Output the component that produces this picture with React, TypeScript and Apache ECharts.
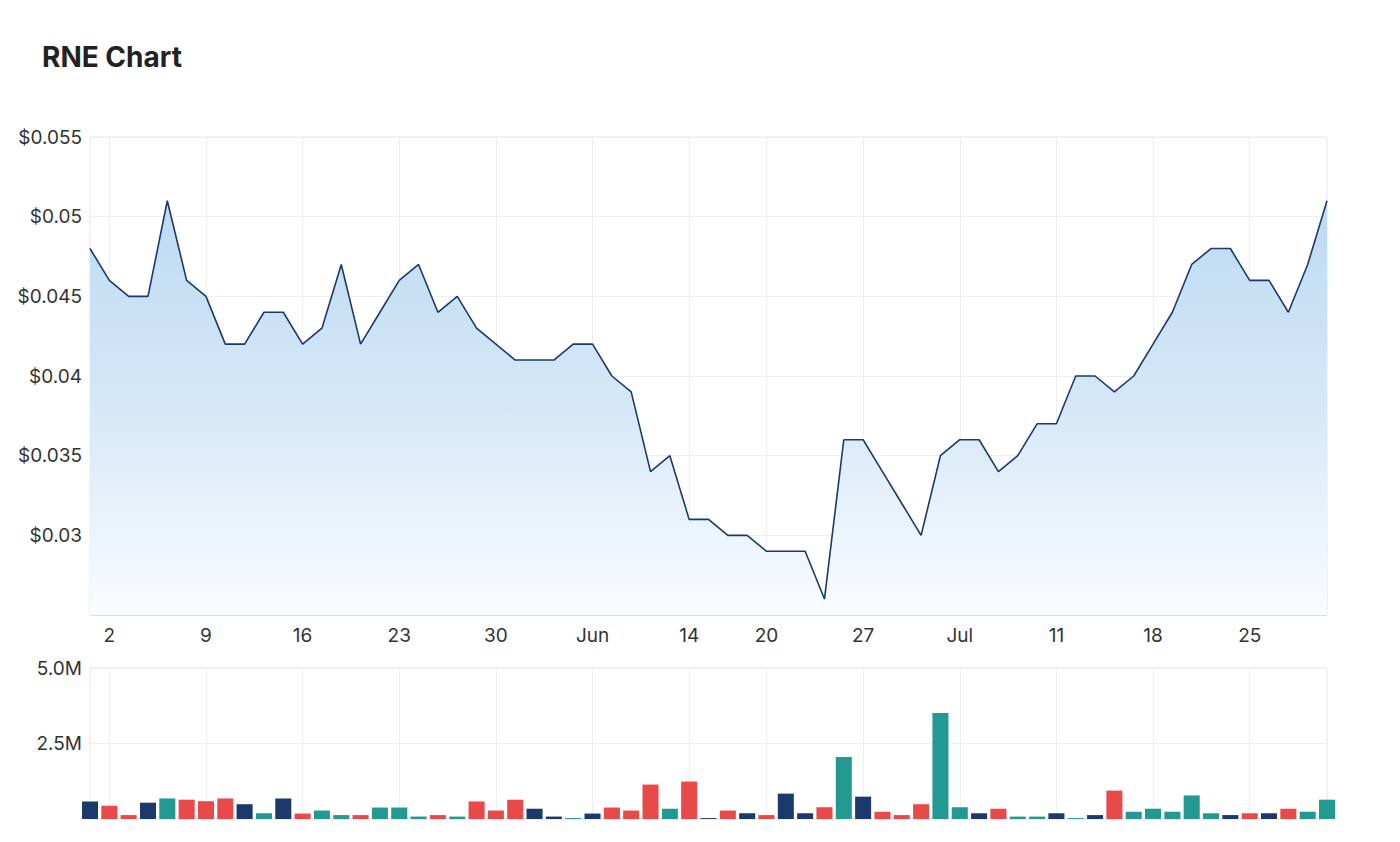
import React, { useEffect, useRef } from "react";
import * as echarts from "echarts";

const dates = [
  "2022-04-29",
  "2022-05-02", "2022-05-03", "2022-05-04", "2022-05-05", "2022-05-06",
  "2022-05-09", "2022-05-10", "2022-05-11", "2022-05-12", "2022-05-13",
  "2022-05-16", "2022-05-17", "2022-05-18", "2022-05-19", "2022-05-20",
  "2022-05-23", "2022-05-24", "2022-05-25", "2022-05-26", "2022-05-27",
  "2022-05-30", "2022-05-31", "2022-06-01", "2022-06-02", "2022-06-03",
  "2022-06-06", "2022-06-07", "2022-06-08", "2022-06-09", "2022-06-10",
  "2022-06-14", "2022-06-15", "2022-06-16", "2022-06-17",
  "2022-06-20", "2022-06-21", "2022-06-22", "2022-06-23", "2022-06-24",
  "2022-06-27", "2022-06-28", "2022-06-29", "2022-06-30", "2022-07-01",
  "2022-07-04", "2022-07-05", "2022-07-06", "2022-07-07", "2022-07-08",
  "2022-07-11", "2022-07-12", "2022-07-13", "2022-07-14", "2022-07-15",
  "2022-07-18", "2022-07-19", "2022-07-20", "2022-07-21", "2022-07-22",
  "2022-07-25", "2022-07-26", "2022-07-27", "2022-07-28", "2022-07-29",
];

const prices = [
  0.048, 0.046, 0.045, 0.045, 0.051, 0.046, 0.045, 0.042, 0.042, 0.044,
  0.044, 0.042, 0.043, 0.047, 0.042, 0.044, 0.046, 0.047, 0.044, 0.045,
  0.043, 0.042, 0.041, 0.041, 0.041, 0.042, 0.042, 0.040, 0.039, 0.034,
  0.035, 0.031, 0.031, 0.030, 0.030, 0.029, 0.029, 0.029, 0.026, 0.036,
  0.036, 0.034, 0.032, 0.030, 0.035, 0.036, 0.036, 0.034, 0.035, 0.037,
  0.037, 0.040, 0.040, 0.039, 0.040, 0.042, 0.044, 0.047, 0.048, 0.048,
  0.046, 0.046, 0.044, 0.047, 0.051,
];

const volumes = [
  580000, 440000, 130000, 540000, 680000, 640000, 590000, 680000, 490000, 190000,
  680000, 180000, 280000, 130000, 130000, 380000, 380000, 80000, 130000, 80000,
  580000, 280000, 640000, 340000, 80000, 30000, 180000, 380000, 280000, 1140000,
  340000, 1240000, 30000, 280000, 190000, 130000, 840000, 190000, 390000, 2050000,
  740000, 240000, 130000, 490000, 3510000, 390000, 190000, 340000, 80000, 80000,
  190000, 30000, 130000, 940000, 240000, 340000, 240000, 780000, 190000, 130000,
  190000, 190000, 340000, 240000, 640000,
];

const tickDates = [
  "2022-05-02", "2022-05-09", "2022-05-16", "2022-05-23", "2022-05-30",
  "2022-06-06", "2022-06-14", "2022-06-20", "2022-06-27", "2022-07-04",
  "2022-07-11", "2022-07-18", "2022-07-25",
];
const tickLabels = ["2", "9", "16", "23", "30", "Jun", "14", "20", "27", "Jul", "11", "18", "25"];

const NAVY = "#1b3a6b";
const RED = "#e84a4a";
const TEAL = "#229a91";
const FONT = "Inter";

export default function App() {
  const ref = useRef<HTMLDivElement>(null);

  useEffect(() => {
    if (!ref.current) return;
    const chart = echarts.init(ref.current, null, { renderer: "svg" });
    const tickIdx = new Set(tickDates.map((d) => dates.indexOf(d)));
    const labelMap: Record<string, string> = {};
    tickDates.forEach((d, i) => (labelMap[d] = tickLabels[i]));
    const isTick = (i: number) => tickIdx.has(i);

    const barData = volumes.map((v, i) => {
      let c = NAVY;
      if (i > 0) {
        if (prices[i] > prices[i - 1]) c = TEAL;
        else if (prices[i] < prices[i - 1]) c = RED;
      }
      return { value: v, itemStyle: { color: c } };
    });

    const labelStyle = { color: "#333", fontSize: 19, fontFamily: FONT };

    chart.setOption({
      animation: false,
      backgroundColor: "#fff",
      title: {
        text: "RNE Chart",
        left: 42,
        top: 43,
        padding: 0,
        textStyle: { fontSize: 28, fontWeight: "bold", color: "#222", fontFamily: FONT },
      },
      grid: [
        { left: 90, top: 137, width: 1237, height: 478, show: true, borderColor: "#e6e6e6", borderWidth: 1 },
        { left: 90, top: 668, width: 1237, height: 151, show: true, borderColor: "#e6e6e6", borderWidth: 1 },
      ],
      xAxis: [
        {
          type: "category",
          gridIndex: 0,
          data: dates,
          boundaryGap: false,
          axisLine: { show: true, lineStyle: { color: "#dddddd" } },
          axisTick: { show: false },
          axisLabel: {
            ...labelStyle,
            interval: (i: number) => isTick(i),
            formatter: (v: string) => labelMap[v] || "",
            margin: 11,
          },
          splitLine: { show: true, interval: (i: number) => isTick(i), lineStyle: { color: "#eeeeee" } },
        },
        {
          type: "category",
          gridIndex: 1,
          data: dates,
          boundaryGap: false,
          axisLine: { show: false },
          axisTick: { show: false },
          axisLabel: { show: false },
          splitLine: { show: true, interval: (i: number) => isTick(i), lineStyle: { color: "#eeeeee" } },
        },
      ],
      yAxis: [
        {
          type: "value",
          gridIndex: 0,
          min: 0.025,
          max: 0.055,
          interval: 0.005,
          axisLine: { show: false },
          axisTick: { show: false },
          axisLabel: {
            ...labelStyle,
            margin: 8,
            formatter: (v: number) => (v < 0.0275 ? "" : "$" + String(+v.toFixed(3))),
          },
          splitLine: { lineStyle: { color: "#eeeeee" } },
        },
        {
          type: "value",
          gridIndex: 1,
          min: 0,
          max: 5000000,
          interval: 2500000,
          axisLine: { show: false },
          axisTick: { show: false },
          axisLabel: {
            ...labelStyle,
            margin: 8,
            formatter: (v: number) => (v === 0 ? "" : (v / 1e6).toFixed(1) + "M"),
          },
          splitLine: { lineStyle: { color: "#eeeeee" } },
        },
      ],
      series: [
        {
          type: "line",
          xAxisIndex: 0,
          yAxisIndex: 0,
          data: prices,
          symbol: "none",
          lineStyle: { color: NAVY, width: 1.6 },
          areaStyle: {
            opacity: 1,
            color: new echarts.graphic.LinearGradient(0, 0, 0, 1, [
              { offset: 0, color: "#bcdaf2" },
              { offset: 0.5, color: "#d6e8f7" },
              { offset: 1, color: "#fafcff" },
            ]),
          },
        },
        {
          type: "bar",
          xAxisIndex: 1,
          yAxisIndex: 1,
          data: barData,
          barWidth: "83%",
        },
      ],
    });
    return () => chart.dispose();
  }, []);

  return <div ref={ref} style={{ position: "fixed", left: 0, top: 0, width: 1400, height: 842 }} />;
}
